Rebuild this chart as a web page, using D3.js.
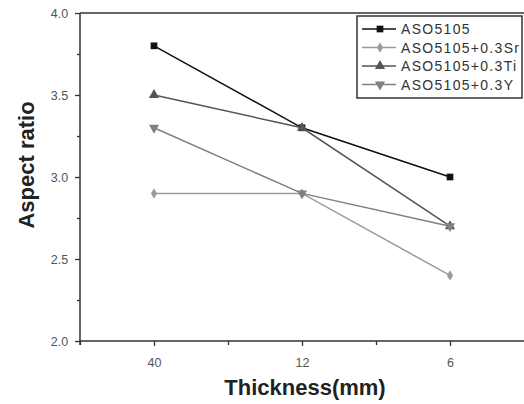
<!DOCTYPE html>
<html><head><meta charset="utf-8">
<script src="https://cdn.jsdelivr.net/npm/d3@7"></script>
<style>body{margin:0;background:#fff}svg{display:block}</style>
</head><body>
<script>
const categories = ["40", "12", "6"];
const seriesNames = ["ASO5105", "ASO5105+0.3Sr", "ASO5105+0.3Ti", "ASO5105+0.3Y"];
const valsBase = [3.8, 3.3, 3.0];
const valsSr = [2.9, 2.9, 2.4];
const valsTi = [3.5, 3.3, 2.7];
const valsY = [3.3, 2.9, 2.7];
const yTicks = [2.0, 2.5, 3.0, 3.5, 4.0];
const colors = ["#111", "#9a9a9a", "#555", "#808080"];
const symbols = ["square", "diamond", "triangle", "triangleDown"];

const W = 524, H = 404;
const FONT = "Liberation Sans, Arial, sans-serif";
const svg = d3.select("body").append("svg").attr("width", W).attr("height", H);
const x = d3.scaleLinear().domain([-0.5, 2.5]).range([80, 524]);
const y = d3.scaleLinear().domain([2, 4]).range([341, 13]);

// axes
const gY = svg.append("g").attr("transform", "translate(80,0)")
  .call(d3.axisLeft(y).tickValues(yTicks).tickFormat(d3.format(".1f")).tickSize(5));
const gYm = svg.append("g").attr("transform", "translate(80,0)")
  .call(d3.axisLeft(y).tickValues([2.25, 2.75, 3.25, 3.75]).tickFormat("").tickSize(3));
const gX = svg.append("g").attr("transform", "translate(0,341)")
  .call(d3.axisBottom(x).tickValues([0, 1, 2]).tickFormat((d) => categories[d]).tickSize(5));
const gXm = svg.append("g").attr("transform", "translate(0,341)")
  .call(d3.axisBottom(x).tickValues([-0.5, 0.5, 1.5]).tickFormat("").tickSize(4));
[gY, gYm, gX, gXm].forEach(g => {
  g.select(".domain").remove();
  g.selectAll(".tick line").attr("stroke", "#333").attr("stroke-width", 1.3);
  g.selectAll("text").attr("font-family", FONT).attr("font-size", 12.5).attr("fill", "#555");
});
svg.append("line").attr("x1", 80).attr("x2", 80).attr("y1", 13).attr("y2", 345).attr("stroke", "#333").attr("stroke-width", 1.5);
svg.append("line").attr("x1", 80).attr("x2", 524).attr("y1", 341).attr("y2", 341).attr("stroke", "#333").attr("stroke-width", 1.5);
svg.append("line").attr("x1", 80).attr("x2", 524).attr("y1", 13).attr("y2", 13).attr("stroke", "#333").attr("stroke-width", 1.5);
gX.selectAll("text").attr("dy", "1.45em");
gY.selectAll("text").attr("dx", "-0.3em");

// series
const allVals = [valsBase, valsSr, valsTi, valsY];
const symMap = {square: d3.symbolSquare, diamond: d3.symbolDiamond, triangle: d3.symbolTriangle, triangleDown: d3.symbolTriangle};
function sym(i, cx, cy, g) {
  const s = d3.symbol().type(symMap[symbols[i]]).size(i === 1 ? 32 : 45);
  g.append("path").attr("d", s()).attr("fill", colors[i])
    .attr("transform", `translate(${cx},${cy})` + (symbols[i] === "triangleDown" ? " rotate(180)" : ""));
}
const line = d3.line().x((d, j) => x(j)).y(d => y(d));
allVals.forEach((vals, i) => {
  const g = svg.append("g");
  g.append("path").attr("d", line(vals)).attr("fill", "none").attr("stroke", colors[i]).attr("stroke-width", 1.5);
  vals.forEach((v, j) => sym(i, x(j), y(v), g));
});

// legend
const lg = svg.append("g");
lg.append("rect").attr("x", 357).attr("y", 16).attr("width", 165).attr("height", 82)
  .attr("fill", "#fff").attr("stroke", "#333").attr("stroke-width", 1.5);
seriesNames.forEach((n, i) => {
  const yy = 29 + i * 18.5;
  lg.append("line").attr("x1", 362).attr("x2", 396).attr("y1", yy).attr("y2", yy).attr("stroke", colors[i]).attr("stroke-width", 1.5);
  sym(i, 380, yy, lg);
  lg.append("text").attr("x", 401).attr("y", yy + 5).text(n)
    .attr("font-family", FONT).attr("font-size", 14).attr("letter-spacing", 1.3).attr("fill", "#333");
});

// axis titles
svg.append("text").attr("x", 305).attr("y", 395).attr("text-anchor", "middle")
  .attr("font-family", FONT).attr("font-weight", "bold").attr("font-size", 22).attr("fill", "#222")
  .text("Thickness(mm)");
svg.append("text").attr("transform", "translate(34,165) rotate(-90)").attr("text-anchor", "middle")
  .attr("font-family", FONT).attr("font-weight", "bold").attr("font-size", 22).attr("fill", "#222")
  .text("Aspect  ratio");
</script>
</body></html>
